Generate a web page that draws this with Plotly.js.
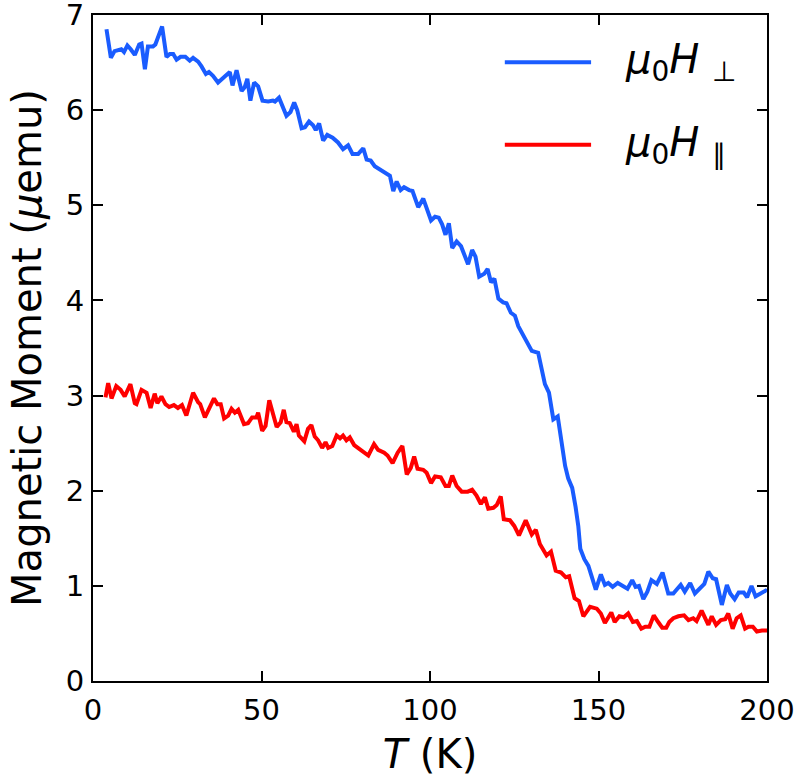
<!DOCTYPE html>
<html>
<head>
<meta charset="utf-8">
<script src="https://cdn.plot.ly/plotly-3.0.1.min.js"></script>
<style>html,body{margin:0;padding:0;background:#fff;}#chart{width:794px;height:777px;}</style>
</head>
<body>
<div id="chart"></div>
<script>
// Temperature (K) and magnetic moment (μemu), field perpendicular
const tPerp = [4.0,5.3,6.4,8.4,9.2,10.2,11.2,12.4,13.7,14.4,15.4,16.3,17.8,18.5,20.5,21.8,22.8,23.8,24.8,26,27.4,28.7,29.7,31.2,32.2,33.5,34.4,35.6,37.1,38.1,39.3,40.6,41.4,42.6,44.1,45,45.8,46.7,47.8,49,
  50.3,52,53.4,54,55.2,57.4,58.6,59.7,60.6,61.9,62.9,64.1,65.3,66.1,67.1,68.3,69.5,71.1,72.7,74.2,75.7,77,78.7,80.2,81.2,82.4,83.6,85.3,86.9,88.1,89.1,90.1,91.3,92.3,93.8,94.8,96.5,98,
  100.3,101.5,102.6,103.6,104.6,105.6,106.6,107.9,109.2,110.4,111.3,112.5,113.5,114.6,116.1,117.1,118.1,119.1,120.3,121.7,122.7,124,125.2,126.2,127.4,128.7,130.2,132.1,133.1,134.1,135.3,136.6,137.9,139.1,140.1,141,142.2,143.2,144,144.6,145.8,147,148,149.2,
  150.7,151.9,152.9,154.2,155.7,156.9,157.7,158.6,160,161,162,163.3,164.5,165.7,167.3,169,170.7,172.2,173.4,174.4,175.6,177.2,178.6,179.9,181.4,182.6,183.9,184.9,186.6,188.1,189.1,190.4,191.6,193.1,194.1,195.4,196.6,198.1,199.6,200];
const mPerp = [6.85,6.55,6.62,6.64,6.61,6.68,6.64,6.58,6.69,6.70,6.43,6.67,6.67,6.69,6.88,6.56,6.59,6.59,6.53,6.56,6.56,6.52,6.55,6.51,6.46,6.38,6.40,6.36,6.29,6.32,6.36,6.40,6.26,6.42,6.20,6.24,6.33,6.10,6.29,6.25,
  6.10,6.09,6.10,6.09,6.13,5.94,5.98,6.08,6.00,5.81,5.82,5.88,5.84,5.79,5.86,5.68,5.74,5.71,5.66,5.59,5.63,5.54,5.54,5.60,5.48,5.47,5.41,5.37,5.33,5.31,5.15,5.25,5.16,5.19,5.16,5.15,4.98,5.07,
  4.84,4.88,4.87,4.80,4.69,4.81,4.55,4.62,4.57,4.46,4.38,4.53,4.46,4.25,4.28,4.33,4.19,4.23,4.02,3.98,3.97,3.87,3.84,3.73,3.65,3.55,3.47,3.45,3.29,3.12,3.03,2.75,2.78,2.51,2.26,2.13,2.03,1.83,1.63,1.39,1.28,1.21,1.09,0.96,
  1.12,1.01,1.03,0.99,1.03,1.01,0.99,0.97,1.06,0.99,1.00,0.86,0.94,1.06,1.02,1.14,0.92,0.92,0.97,1.01,0.94,1.03,0.92,0.96,1.02,1.15,1.08,1.07,0.80,1.01,0.92,0.86,0.93,0.93,0.88,1.00,0.89,0.92,0.95,0.94];

// Field parallel
const tPar = [3.7,4.5,5.5,6.9,8.2,9.4,11.1,12.4,12.9,14.4,15.9,17.1,18.3,19.1,20.3,21.5,22.6,24,25.2,26.4,27.7,29.7,31.2,31.8,33.2,34.6,35.9,36.9,37.9,38.9,40.1,41.1,42.1,43.1,44.8,46,47.2,48.5,49,
  50.2,51.2,52.3,53.4,54.5,55.7,56.6,57.4,58.4,59.6,60.4,61.1,62.7,63.8,64.8,65.8,66.8,68,69,69.8,71,72.3,73.3,74.2,75.2,76.2,77.5,79,80.5,81.7,83.4,84.6,86.4,87.4,88.9,90.4,91.8,93.1,94.3,95.3,96.3,98,99,
  100.3,101.5,103.2,104.6,105.6,106.6,107.9,109.4,111.2,112.5,113.8,115.1,116.3,117.3,118.8,119.8,121,121.9,123.7,125,126.4,128.4,130.2,131.4,132.6,134.6,135.9,137.3,138.9,140.3,141.3,142.9,144.2,145.5,147.5,149.5,
  150.7,151.9,153.8,154.8,156.2,157.5,158.8,160.2,161.4,162.7,163.9,165.1,166.4,167.7,168.9,170.1,171.0,172.2,173.7,175.4,176.7,178.1,179.1,180.6,181.6,182.6,183.6,184.9,186.3,187.6,188.5,189.8,191,192.2,193.5,194.5,195.8,197,198.5,200];
const mPar = [2.98,3.13,2.97,3.10,3.06,2.99,3.12,2.92,2.91,3.06,3.03,2.87,3.02,2.92,2.99,2.91,2.88,2.90,2.87,2.90,2.79,3.03,2.93,2.91,2.77,2.87,2.97,2.91,2.91,2.76,2.79,2.86,2.82,2.85,2.70,2.71,2.77,2.77,2.82,
  2.63,2.68,2.95,2.80,2.67,2.72,2.85,2.72,2.71,2.62,2.70,2.58,2.52,2.65,2.69,2.57,2.53,2.45,2.51,2.45,2.47,2.58,2.55,2.58,2.53,2.56,2.48,2.44,2.40,2.37,2.49,2.43,2.40,2.37,2.29,2.40,2.47,2.17,2.24,2.36,2.23,2.22,2.19,
  2.08,2.15,2.14,2.05,2.05,2.16,2.05,1.99,1.99,2.01,1.95,1.86,1.93,1.81,1.82,1.85,1.94,1.70,1.69,1.63,1.53,1.69,1.54,1.59,1.44,1.32,1.36,1.16,1.14,1.09,1.10,0.87,0.84,0.68,0.78,0.76,
  0.71,0.61,0.72,0.62,0.68,0.67,0.71,0.62,0.63,0.55,0.57,0.57,0.69,0.62,0.56,0.56,0.62,0.66,0.68,0.69,0.64,0.66,0.63,0.74,0.66,0.59,0.68,0.59,0.64,0.65,0.71,0.55,0.66,0.69,0.55,0.57,0.57,0.52,0.53,0.53];

const xTicks = [0, 50, 100, 150, 200];
const yTicks = [0, 1, 2, 3, 4, 5, 6, 7];
const seriesNames = ['<i>μ</i><sub>0</sub><i>H</i> <sub>⊥</sub>', '<i>μ</i><sub>0</sub><i>H</i> <sub>∥</sub>'];
const seriesColors = ['#1a5cff', '#ff0000'];

const FONT = 'DejaVu Sans, Liberation Sans, sans-serif';

const traces = [
  {x: tPerp, y: mPerp, type: 'scatter', mode: 'lines', name: seriesNames[0],
   line: {color: seriesColors[0], width: 4}},
  {x: tPar, y: mPar, type: 'scatter', mode: 'lines', name: seriesNames[1],
   line: {color: seriesColors[1], width: 4}}
];

const axisCommon = {
  showline: true, linecolor: '#000', linewidth: 2, mirror: 'ticks',
  ticks: 'inside', ticklen: 10, tickwidth: 2, tickcolor: '#000',
  showgrid: false, zeroline: false, ticklabeloverflow: 'allow',
  tickfont: {family: FONT, size: 29, color: '#000'}
};

// manual legend (long sample lines like the reference)
const legY = [0.929, 0.805];
const shapes = legY.map((yy, i) => ({
  type: 'line', xref: 'paper', yref: 'paper', x0: 0.611, x1: 0.739, y0: yy, y1: yy,
  line: {color: seriesColors[i], width: 4}
}));
const annotations = legY.map((yy, i) => ({
  xref: 'paper', yref: 'paper', x: 0.786, y: yy, xanchor: 'left', yanchor: 'middle',
  text: seriesNames[i], showarrow: false,
  font: {family: FONT, size: 40, color: '#000'}
}));

const layout = {
  width: 794, height: 777,
  margin: {l: 93, r: 27, t: 15, b: 96},
  paper_bgcolor: '#fff', plot_bgcolor: '#fff',
  showlegend: false,
  xaxis: Object.assign({}, axisCommon, {
    range: [0, 200], tickvals: xTicks, ticktext: xTicks.map(String),
    ticklabelstandoff: 2,
    title: {text: '<i>T</i> (K)', font: {family: FONT, size: 40, color: '#000'}, standoff: 14}
  }),
  yaxis: Object.assign({}, axisCommon, {
    range: [0, 7], tickvals: yTicks, ticktext: yTicks.map(String),
    ticklabelstandoff: 1,
    title: {text: 'Magnetic Moment (<i>μ</i>emu)', font: {family: FONT, size: 40, color: '#000'}, standoff: 12}
  }),
  shapes: shapes,
  annotations: annotations
};

Plotly.newPlot('chart', traces, layout, {displayModeBar: false, staticPlot: true});
</script>
</body>
</html>
